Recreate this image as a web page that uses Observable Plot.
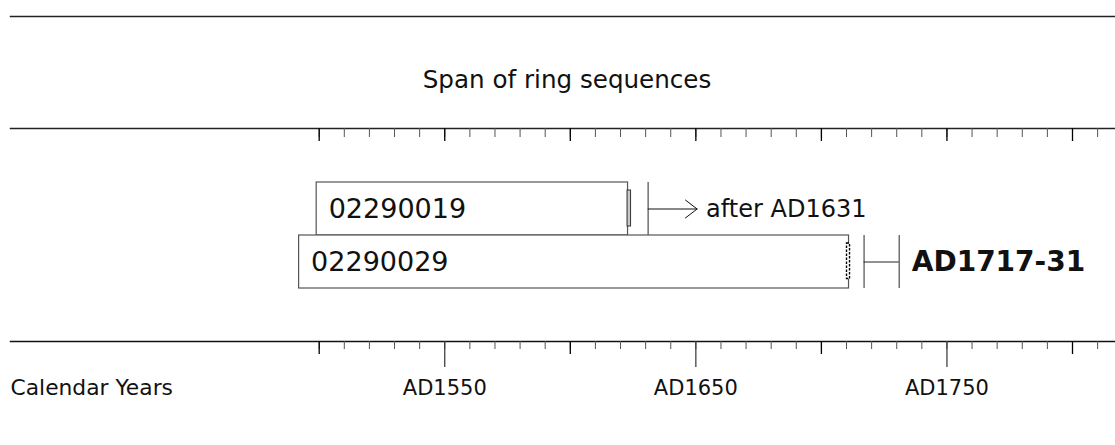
<!DOCTYPE html>
<html>
<head>
<meta charset="utf-8">
<script src="https://cdn.jsdelivr.net/npm/d3@7"></script>
<script src="https://cdn.jsdelivr.net/npm/@observablehq/plot@0.6"></script>
<style>
  html, body { margin: 0; padding: 0; background: #fff; }
  #chart svg { display: block; }
</style>
</head>
<body>
<div id="chart"></div>
<script>
// ---- data ----
const samples = ["02290019", "02290029"];
const startYears = [1499, 1492];
const endYears = [1623, 1711];
const sapStart = [1622.8, 1710.2];
const sapEnd = [1624.2, 1711.4];
const sapKind = ["sapwood", "bark"];
const dateKind = ["after", "range"];
const dateFrom = [1631, 1717];
const dateTo = [1631, 1731];
const dateLabels = ["after AD1631", "AD1717-31"];
const title = "Span of ring sequences";
const axisTitle = "Calendar Years";
const decadeTicks = d3.range(1500, 1811, 10);
const halfCenturyTicks = [1500, 1550, 1600, 1650, 1700, 1750, 1800];
const centuryTicks = [1500, 1600, 1700, 1800];
const labelTicks = [1550, 1650, 1750];

// ---- layout ----
const W = 1115, H = 445;
const mTop = 128, mBottom = 104;
const frameH = H - mTop - mBottom;
const pxPerYear = 2.511, x1500 = 318.7;
const arrowYears = 19.5;
const font = "DejaVu Sans, Verdana, sans-serif";

const rows = samples.map((id, i) => ({
  id, start: startYears[i], end: endYears[i],
  sapStart: sapStart[i], sapEnd: sapEnd[i], sapKind: sapKind[i],
  kind: dateKind[i], from: dateFrom[i], to: dateTo[i], label: dateLabels[i]
}));
const afterRows = rows.filter(d => d.kind === "after");
const rangeRows = rows.filter(d => d.kind === "range");

const chart = Plot.plot({
  width: W, height: H,
  marginLeft: 0, marginRight: 0, marginTop: mTop, marginBottom: mBottom,
  style: { fontFamily: font, color: "#000", background: "#fff" },
  x: { domain: [1500 - x1500 / pxPerYear, 1500 + (W - x1500) / pxPerYear], axis: null },
  y: { type: "band", domain: samples, paddingInner: 0, paddingOuter: 1, axis: null },
  marks: [
    // horizontal frame lines
    Plot.frame({ anchor: "top", insetLeft: 10, stroke: "#222", strokeWidth: 1.5, dy: -112 }),
    Plot.frame({ anchor: "top", insetLeft: 10, stroke: "#222", strokeWidth: 1.5 }),
    Plot.frame({ anchor: "bottom", insetLeft: 10, stroke: "#111", strokeWidth: 1.5 }),
    // title
    Plot.text([title], { frameAnchor: "top", dy: -58, dx: 9, fontSize: 24.6, fill: "#111" }),
    // top scale ticks (pointing down into the frame)
    Plot.tickX(decadeTicks, { x: d => d, insetBottom: frameH - 9, stroke: "#555" }),
    Plot.tickX(halfCenturyTicks, { x: d => d, insetBottom: frameH - 13, stroke: "#000", strokeWidth: 1.3 }),
    // bottom scale ticks (below the frame)
    Plot.tickX(decadeTicks, { x: d => d, insetTop: frameH, insetBottom: -8, stroke: "#555" }),
    Plot.tickX(centuryTicks, { x: d => d, insetTop: frameH, insetBottom: -13, stroke: "#000", strokeWidth: 1.3 }),
    Plot.tickX(labelTicks, { x: d => d, insetTop: frameH, insetBottom: -26, stroke: "#333", strokeWidth: 1.2 }),
    // bottom labels
    Plot.text(labelTicks, { x: d => d, text: d => "AD" + d, frameAnchor: "bottom", dy: 53, fontSize: 21, fill: "#111" }),
    Plot.text([axisTitle], { frameAnchor: "bottom-left", dx: 10, dy: 53, textAnchor: "start", fontSize: 21.8, fill: "#111" }),
    // sample bars
    Plot.barX(rows, { x1: "start", x2: "end", y: "id", fill: "#fff", stroke: "#555", strokeWidth: 1.2 }),
    Plot.text(rows, { x: "start", y: "id", text: "id", textAnchor: "start", dx: 12, fontSize: 27, fill: "#111" }),
    // sapwood / bark markers
    Plot.barX(rows.filter(d => d.sapKind === "sapwood"), { x1: "sapStart", x2: "sapEnd", y: "id", insetTop: 8, insetBottom: 9, fill: "#c8c8c8", stroke: "#333", strokeWidth: 1 }),
    Plot.barX(rows.filter(d => d.sapKind === "bark"), { x1: "sapStart", x2: "sapEnd", y: "id", insetTop: 8, insetBottom: 9.5, fill: "#fff", stroke: "#000", strokeWidth: 1.4, strokeDasharray: "2.5,1.5" }),
    // felling date markers
    Plot.tickX(rows, { x: "from", y: "id", stroke: "#666", strokeWidth: 1.4 }),
    Plot.tickX(rangeRows, { x: "to", y: "id", stroke: "#666", strokeWidth: 1.4 }),
    Plot.ruleY(rangeRows, { x1: "from", x2: "to", y: "id", stroke: "#222", strokeWidth: 1 }),
    Plot.arrow(afterRows, { x1: "from", x2: d => d.from + arrowYears, y1: "id", y2: "id", stroke: "#111", strokeWidth: 1, headLength: 22, headAngle: 75, insetEnd: 0, insetStart: 0 }),
    Plot.text(afterRows, { x: d => d.from + arrowYears, y: "id", text: "label", textAnchor: "start", dx: 9, fontSize: 24, fill: "#111" }),
    Plot.text(rangeRows, { x: "to", y: "id", text: "label", textAnchor: "start", dx: 12.5, fontSize: 28, fontWeight: "bold", fill: "#111" })
  ]
});
document.getElementById("chart").appendChild(chart);
</script>
</body>
</html>
